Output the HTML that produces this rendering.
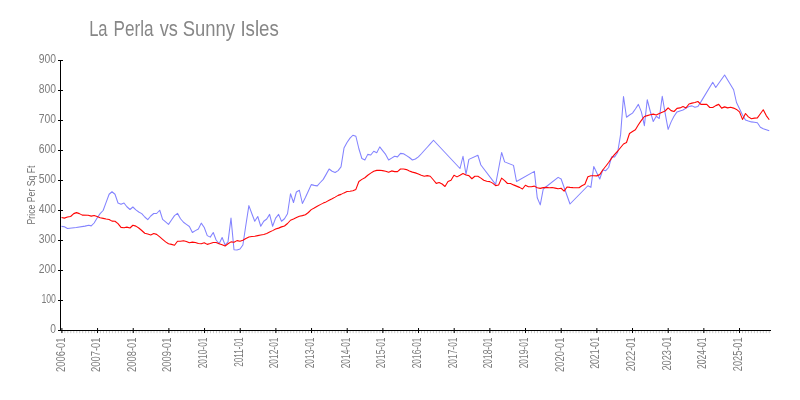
<!DOCTYPE html>
<html><head><meta charset="utf-8"><title>La Perla vs Sunny Isles</title>
<style>
html,body{margin:0;padding:0;background:#fff;}
body{width:800px;height:400px;overflow:hidden;font-family:"Liberation Sans",sans-serif;}
svg{display:block}
text{font-family:"Liberation Sans",sans-serif;}
.yl{font-size:12.1px;fill:#7c7c7c;}
.xl{font-size:12.1px;fill:#7c7c7c;}
.yt{font-size:11px;fill:#707070;}
.tt{font-size:21.6px;fill:#878787;}
</style></head><body>
<svg width="800" height="400" viewBox="0 0 800 400">
<rect width="800" height="400" fill="#fff"/>
<path d="M61.90,331V333.2M64.87,331V333.2M67.84,331V333.2M70.82,331V333.2M73.79,331V333.2M76.76,331V333.2M79.73,331V333.2M82.70,331V333.2M85.68,331V333.2M88.65,331V333.2M91.62,331V333.2M94.59,331V333.2M97.56,331V333.2M100.54,331V333.2M103.51,331V333.2M106.48,331V333.2M109.45,331V333.2M112.42,331V333.2M115.40,331V333.2M118.37,331V333.2M121.34,331V333.2M124.31,331V333.2M127.28,331V333.2M130.26,331V333.2M133.23,331V333.2M136.20,331V333.2M139.17,331V333.2M142.14,331V333.2M145.12,331V333.2M148.09,331V333.2M151.06,331V333.2M154.03,331V333.2M157.00,331V333.2M159.98,331V333.2M162.95,331V333.2M165.92,331V333.2M168.89,331V333.2M171.86,331V333.2M174.84,331V333.2M177.81,331V333.2M180.78,331V333.2M183.75,331V333.2M186.72,331V333.2M189.70,331V333.2M192.67,331V333.2M195.64,331V333.2M198.61,331V333.2M201.58,331V333.2M204.56,331V333.2M207.53,331V333.2M210.50,331V333.2M213.47,331V333.2M216.44,331V333.2M219.42,331V333.2M222.39,331V333.2M225.36,331V333.2M228.33,331V333.2M231.30,331V333.2M234.28,331V333.2M237.25,331V333.2M240.22,331V333.2M243.19,331V333.2M246.16,331V333.2M249.14,331V333.2M252.11,331V333.2M255.08,331V333.2M258.05,331V333.2M261.02,331V333.2M264.00,331V333.2M266.97,331V333.2M269.94,331V333.2M272.91,331V333.2M275.88,331V333.2M278.86,331V333.2M281.83,331V333.2M284.80,331V333.2M287.77,331V333.2M290.74,331V333.2M293.72,331V333.2M296.69,331V333.2M299.66,331V333.2M302.63,331V333.2M305.60,331V333.2M308.58,331V333.2M311.55,331V333.2M314.52,331V333.2M317.49,331V333.2M320.46,331V333.2M323.44,331V333.2M326.41,331V333.2M329.38,331V333.2M332.35,331V333.2M335.32,331V333.2M338.30,331V333.2M341.27,331V333.2M344.24,331V333.2M347.21,331V333.2M350.18,331V333.2M353.16,331V333.2M356.13,331V333.2M359.10,331V333.2M362.07,331V333.2M365.04,331V333.2M368.02,331V333.2M370.99,331V333.2M373.96,331V333.2M376.93,331V333.2M379.90,331V333.2M382.88,331V333.2M385.85,331V333.2M388.82,331V333.2M391.79,331V333.2M394.76,331V333.2M397.74,331V333.2M400.71,331V333.2M403.68,331V333.2M406.65,331V333.2M409.62,331V333.2M412.60,331V333.2M415.57,331V333.2M418.54,331V333.2M421.51,331V333.2M424.48,331V333.2M427.46,331V333.2M430.43,331V333.2M433.40,331V333.2M436.37,331V333.2M439.34,331V333.2M442.32,331V333.2M445.29,331V333.2M448.26,331V333.2M451.23,331V333.2M454.20,331V333.2M457.18,331V333.2M460.15,331V333.2M463.12,331V333.2M466.09,331V333.2M469.06,331V333.2M472.04,331V333.2M475.01,331V333.2M477.98,331V333.2M480.95,331V333.2M483.92,331V333.2M486.90,331V333.2M489.87,331V333.2M492.84,331V333.2M495.81,331V333.2M498.78,331V333.2M501.76,331V333.2M504.73,331V333.2M507.70,331V333.2M510.67,331V333.2M513.64,331V333.2M516.62,331V333.2M519.59,331V333.2M522.56,331V333.2M525.53,331V333.2M528.50,331V333.2M531.48,331V333.2M534.45,331V333.2M537.42,331V333.2M540.39,331V333.2M543.36,331V333.2M546.34,331V333.2M549.31,331V333.2M552.28,331V333.2M555.25,331V333.2M558.22,331V333.2M561.20,331V333.2M564.17,331V333.2M567.14,331V333.2M570.11,331V333.2M573.08,331V333.2M576.06,331V333.2M579.03,331V333.2M582.00,331V333.2M584.97,331V333.2M587.94,331V333.2M590.92,331V333.2M593.89,331V333.2M596.86,331V333.2M599.83,331V333.2M602.80,331V333.2M605.78,331V333.2M608.75,331V333.2M611.72,331V333.2M614.69,331V333.2M617.66,331V333.2M620.64,331V333.2M623.61,331V333.2M626.58,331V333.2M629.55,331V333.2M632.52,331V333.2M635.50,331V333.2M638.47,331V333.2M641.44,331V333.2M644.41,331V333.2M647.38,331V333.2M650.36,331V333.2M653.33,331V333.2M656.30,331V333.2M659.27,331V333.2M662.24,331V333.2M665.22,331V333.2M668.19,331V333.2M671.16,331V333.2M674.13,331V333.2M677.10,331V333.2M680.08,331V333.2M683.05,331V333.2M686.02,331V333.2M688.99,331V333.2M691.96,331V333.2M694.94,331V333.2M697.91,331V333.2M700.88,331V333.2M703.85,331V333.2M706.82,331V333.2M709.80,331V333.2M712.77,331V333.2M715.74,331V333.2M718.71,331V333.2M721.68,331V333.2M724.66,331V333.2M727.63,331V333.2M730.60,331V333.2M733.57,331V333.2M736.54,331V333.2M739.52,331V333.2M742.49,331V333.2M745.46,331V333.2M748.43,331V333.2M751.40,331V333.2M754.38,331V333.2M757.35,331V333.2M760.32,331V333.2M763.29,331V333.2M766.26,331V333.2M769.24,331V333.2" stroke="#c8c8c8" stroke-width="1" fill="none"/>
<path d="M60.5,60V331 M60,330.5H771" stroke="#000" stroke-width="1" fill="none" shape-rendering="crispEdges"/>
<path d="M58,330.5H62.5M58,300.5H62.5M58,270.5H62.5M58,240.5H62.5M58,210.5H62.5M58,180.5H62.5M58,150.5H62.5M58,120.5H62.5M58,90.5H62.5M58,60.5H62.5" stroke="#000" stroke-width="1" fill="none" shape-rendering="crispEdges"/>
<path d="M61.90,328V333M97.56,328V333M133.23,328V333M168.89,328V333M204.56,328V333M240.22,328V333M275.88,328V333M311.55,328V333M347.21,328V333M382.88,328V333M418.54,328V333M454.20,328V333M489.87,328V333M525.53,328V333M561.20,328V333M596.86,328V333M632.52,328V333M668.19,328V333M703.85,328V333M739.52,328V333" stroke="#000" stroke-width="1" fill="none"/>
<text class="yl" x="56.0" y="332.8" text-anchor="end" textLength="5.7" lengthAdjust="spacingAndGlyphs">0</text>
<text class="yl" x="56.0" y="302.8" text-anchor="end" textLength="14.6" lengthAdjust="spacingAndGlyphs">100</text>
<text class="yl" x="56.0" y="272.8" text-anchor="end" textLength="17.3" lengthAdjust="spacingAndGlyphs">200</text>
<text class="yl" x="56.0" y="242.8" text-anchor="end" textLength="17.3" lengthAdjust="spacingAndGlyphs">300</text>
<text class="yl" x="56.0" y="212.8" text-anchor="end" textLength="17.3" lengthAdjust="spacingAndGlyphs">400</text>
<text class="yl" x="56.0" y="182.8" text-anchor="end" textLength="17.3" lengthAdjust="spacingAndGlyphs">500</text>
<text class="yl" x="56.0" y="152.8" text-anchor="end" textLength="17.3" lengthAdjust="spacingAndGlyphs">600</text>
<text class="yl" x="56.0" y="122.8" text-anchor="end" textLength="17.3" lengthAdjust="spacingAndGlyphs">700</text>
<text class="yl" x="56.0" y="92.8" text-anchor="end" textLength="17.3" lengthAdjust="spacingAndGlyphs">800</text>
<text class="yl" x="56.0" y="62.8" text-anchor="end" textLength="17.3" lengthAdjust="spacingAndGlyphs">900</text>
<text class="xl" transform="translate(64.50,337.5) rotate(-90)" text-anchor="end" textLength="34.4" lengthAdjust="spacingAndGlyphs">2006-01</text>
<text class="xl" transform="translate(100.16,337.5) rotate(-90)" text-anchor="end" textLength="34.4" lengthAdjust="spacingAndGlyphs">2007-01</text>
<text class="xl" transform="translate(135.83,337.5) rotate(-90)" text-anchor="end" textLength="34.4" lengthAdjust="spacingAndGlyphs">2008-01</text>
<text class="xl" transform="translate(171.49,337.5) rotate(-90)" text-anchor="end" textLength="34.4" lengthAdjust="spacingAndGlyphs">2009-01</text>
<text class="xl" transform="translate(207.16,337.5) rotate(-90)" text-anchor="end" textLength="30.8" lengthAdjust="spacingAndGlyphs">2010-01</text>
<text class="xl" transform="translate(242.82,337.5) rotate(-90)" text-anchor="end" textLength="29.3" lengthAdjust="spacingAndGlyphs">2011-01</text>
<text class="xl" transform="translate(278.48,337.5) rotate(-90)" text-anchor="end" textLength="30.8" lengthAdjust="spacingAndGlyphs">2012-01</text>
<text class="xl" transform="translate(314.15,337.5) rotate(-90)" text-anchor="end" textLength="30.8" lengthAdjust="spacingAndGlyphs">2013-01</text>
<text class="xl" transform="translate(349.81,337.5) rotate(-90)" text-anchor="end" textLength="30.8" lengthAdjust="spacingAndGlyphs">2014-01</text>
<text class="xl" transform="translate(385.48,337.5) rotate(-90)" text-anchor="end" textLength="30.8" lengthAdjust="spacingAndGlyphs">2015-01</text>
<text class="xl" transform="translate(421.14,337.5) rotate(-90)" text-anchor="end" textLength="30.8" lengthAdjust="spacingAndGlyphs">2016-01</text>
<text class="xl" transform="translate(456.80,337.5) rotate(-90)" text-anchor="end" textLength="30.8" lengthAdjust="spacingAndGlyphs">2017-01</text>
<text class="xl" transform="translate(492.47,337.5) rotate(-90)" text-anchor="end" textLength="30.8" lengthAdjust="spacingAndGlyphs">2018-01</text>
<text class="xl" transform="translate(528.13,337.5) rotate(-90)" text-anchor="end" textLength="30.8" lengthAdjust="spacingAndGlyphs">2019-01</text>
<text class="xl" transform="translate(563.80,337.5) rotate(-90)" text-anchor="end" textLength="34.4" lengthAdjust="spacingAndGlyphs">2020-01</text>
<text class="xl" transform="translate(599.46,337.0) rotate(-90)" text-anchor="end" textLength="31.8" lengthAdjust="spacingAndGlyphs">2021-01</text>
<text class="xl" transform="translate(635.12,337.5) rotate(-90)" text-anchor="end" textLength="33.8" lengthAdjust="spacingAndGlyphs">2022-01</text>
<text class="xl" transform="translate(670.79,336.6) rotate(-90)" text-anchor="end" textLength="34.0" lengthAdjust="spacingAndGlyphs">2023-01</text>
<text class="xl" transform="translate(706.45,337.5) rotate(-90)" text-anchor="end" textLength="31.5" lengthAdjust="spacingAndGlyphs">2024-01</text>
<text class="xl" transform="translate(742.12,337.5) rotate(-90)" text-anchor="end" textLength="33.7" lengthAdjust="spacingAndGlyphs">2025-01</text>
<text class="yt" transform="translate(35.3,195) rotate(-90)" text-anchor="middle" textLength="59" lengthAdjust="spacingAndGlyphs">Price Per Sq Ft</text>
<text class="tt" y="35.9"><tspan x="89.13" textLength="18.41" lengthAdjust="spacingAndGlyphs">La</tspan> <tspan x="113.56" textLength="40.00" lengthAdjust="spacingAndGlyphs">Perla</tspan> <tspan x="159.75" textLength="18.19" lengthAdjust="spacingAndGlyphs">vs</tspan> <tspan x="182.73" textLength="52.21" lengthAdjust="spacingAndGlyphs">Sunny</tspan> <tspan x="240.43" textLength="38.41" lengthAdjust="spacingAndGlyphs">Isles</tspan></text>
<path d="M61.50,226.38 L64.38,226.75 L67.50,228.50 L76.25,227.50 L85.00,226.12 L88.75,225.25 L91.25,225.88 L94.12,223.00 L97.12,218.00 L100.12,213.62 L103.12,210.50 L106.12,202.38 L109.12,194.25 L112.00,191.75 L115.00,194.25 L118.00,203.00 L121.00,204.25 L124.00,203.00 L126.88,206.75 L130.00,209.50 L132.88,207.00 L135.88,209.88 L138.75,212.00 L141.75,213.62 L144.75,217.00 L147.75,219.62 L150.75,216.00 L153.75,213.50 L156.62,213.50 L159.75,210.25 L162.62,219.38 L165.62,221.88 L168.50,224.38 L171.50,220.00 L174.50,215.62 L177.50,213.38 L180.50,218.75 L183.50,222.25 L186.38,224.38 L189.38,226.50 L192.38,232.50 L195.38,230.62 L198.38,229.00 L201.25,223.12 L204.25,227.50 L207.25,235.62 L210.25,237.12 L213.25,232.50 L216.12,240.00 L219.12,243.75 L222.12,237.50 L225.12,245.00 L228.00,241.88 L231.00,218.12 L234.00,249.75 L237.00,250.00 L240.00,249.00 L242.88,245.00 L245.88,225.00 L248.88,205.62 L251.88,213.75 L254.75,221.25 L257.75,216.50 L260.75,226.25 L263.75,221.25 L266.75,219.00 L269.62,214.38 L272.62,226.25 L275.62,218.12 L278.62,214.38 L281.50,221.25 L284.50,218.75 L287.50,213.75 L290.50,193.75 L293.50,202.50 L296.38,192.00 L299.38,190.25 L302.38,203.50 L305.38,197.50 L308.38,191.00 L311.25,184.62 L314.25,185.38 L317.25,185.88 L320.25,182.50 L323.25,179.38 L326.12,174.38 L329.12,169.00 L332.12,171.25 L335.12,172.50 L338.12,170.62 L341.00,166.88 L344.00,148.12 L347.00,142.50 L350.00,138.12 L352.88,135.25 L355.88,136.25 L358.88,148.75 L361.88,158.50 L364.88,160.00 L367.75,154.38 L370.75,155.00 L373.75,151.25 L376.75,152.75 L379.75,146.88 L382.62,150.62 L385.62,154.38 L388.62,160.00 L391.62,158.12 L394.62,156.25 L397.50,156.88 L400.50,153.38 L403.50,153.75 L406.50,155.62 L409.38,157.50 L412.38,160.00 L415.38,159.00 L418.38,156.88 L421.38,153.75 L424.25,150.50 L427.25,147.25 L430.25,143.88 L433.50,140.25 L460.00,168.50 L463.00,156.25 L466.00,174.38 L468.88,159.38 L477.88,155.25 L480.88,165.00 L495.62,184.38 L498.62,168.75 L501.62,152.50 L504.62,161.88 L513.50,165.38 L516.50,181.50 L534.38,171.38 L537.25,197.75 L540.25,204.88 L543.25,189.00 L558.12,177.38 L561.12,179.00 L570.00,204.00 L587.88,185.75 L590.88,187.38 L593.75,166.50 L599.75,179.00 L602.75,170.00 L605.75,170.62 L608.62,167.50 L611.62,156.88 L614.62,156.88 L617.62,152.50 L620.62,134.38 L623.50,96.50 L626.50,117.25 L629.50,115.00 L632.50,113.12 L635.38,109.00 L638.38,104.38 L641.38,111.88 L644.38,125.62 L647.25,99.75 L650.25,111.25 L653.25,121.50 L656.25,116.25 L659.25,118.50 L662.25,96.25 L665.12,113.12 L668.12,129.38 L671.12,121.88 L674.00,116.25 L677.00,111.88 L680.00,110.88 L683.00,110.00 L686.00,108.12 L689.00,106.50 L692.00,105.88 L694.88,107.25 L697.88,106.50 L700.88,101.88 L712.75,82.25 L715.75,87.50 L724.62,75.00 L733.62,89.75 L736.50,102.50 L739.50,108.75 L742.50,115.00 L745.50,120.00 L748.38,121.00 L751.38,121.88 L754.38,122.25 L757.38,122.75 L760.38,127.25 L763.25,128.75 L766.25,129.75 L769.25,130.75" stroke="#8383ff" stroke-width="1.05" fill="none" stroke-linejoin="round"/>
<path d="M61.50,217.50 L64.38,218.12 L67.50,217.00 L70.62,216.50 L73.75,213.62 L76.50,212.62 L79.38,213.62 L82.25,215.12 L88.12,215.25 L91.25,216.12 L94.12,215.50 L97.12,216.50 L100.12,217.75 L103.12,218.38 L106.12,219.00 L109.12,219.50 L112.00,221.12 L115.00,221.25 L118.00,223.62 L121.00,227.38 L124.00,227.75 L126.88,227.12 L130.00,228.00 L132.88,225.25 L135.88,226.12 L138.75,228.00 L141.75,230.50 L144.75,233.25 L147.75,234.00 L150.75,235.00 L153.75,233.50 L156.62,234.38 L159.75,236.88 L162.62,239.38 L165.62,241.88 L168.50,243.75 L171.50,244.38 L174.50,245.25 L177.50,241.25 L180.50,241.25 L183.50,240.75 L186.38,241.50 L189.38,242.75 L192.38,242.12 L195.38,242.50 L198.38,243.50 L201.25,243.75 L204.25,242.75 L207.25,244.38 L210.25,243.50 L213.25,242.50 L216.12,242.50 L219.12,243.75 L222.12,244.75 L225.12,246.00 L228.00,243.75 L231.00,241.88 L234.00,242.25 L237.00,240.62 L240.00,241.25 L242.88,240.25 L245.88,238.50 L248.88,237.00 L251.88,236.50 L254.75,236.25 L257.75,235.62 L260.75,235.00 L263.75,234.50 L266.75,233.50 L269.62,232.12 L272.62,230.62 L275.62,229.00 L278.62,228.12 L281.50,226.88 L284.50,226.00 L287.50,223.50 L290.50,220.25 L293.50,219.00 L296.50,217.50 L299.38,216.25 L302.38,215.62 L305.38,214.75 L308.38,212.50 L311.25,209.62 L314.25,208.00 L317.25,206.25 L320.25,204.62 L323.25,203.12 L326.12,201.88 L329.12,200.25 L332.12,198.75 L335.12,197.12 L338.12,195.38 L341.00,194.38 L344.00,192.88 L347.00,191.50 L350.00,191.25 L352.88,190.75 L355.88,189.38 L358.88,181.50 L361.88,179.38 L364.88,177.75 L367.75,175.25 L370.75,173.12 L373.75,171.25 L376.75,170.38 L379.75,170.25 L382.62,170.62 L385.62,171.25 L388.62,172.25 L391.62,170.88 L394.62,171.62 L397.50,171.62 L400.50,169.00 L403.50,169.00 L406.50,169.62 L409.38,171.00 L412.38,172.12 L415.38,172.88 L418.38,174.00 L421.25,175.25 L424.25,176.25 L427.25,175.62 L430.25,176.25 L433.25,179.75 L436.25,183.38 L439.12,182.50 L442.12,184.00 L445.00,186.50 L448.00,181.50 L451.00,180.25 L454.00,175.25 L457.00,176.88 L460.00,175.25 L463.00,173.50 L466.00,175.00 L468.88,175.62 L471.88,178.75 L474.88,176.25 L477.88,176.25 L480.88,178.12 L483.75,180.25 L486.75,181.25 L489.75,181.62 L492.62,183.12 L495.62,185.62 L498.62,185.00 L501.62,178.12 L504.62,180.62 L507.50,183.50 L510.50,183.50 L513.50,184.88 L516.50,186.12 L519.50,187.38 L522.50,189.00 L525.38,185.25 L528.38,186.75 L531.38,186.75 L534.38,186.12 L537.25,187.75 L540.25,188.38 L543.25,187.62 L546.25,187.38 L549.25,187.75 L552.12,187.50 L555.12,188.12 L558.12,188.75 L561.12,188.25 L564.12,191.12 L567.00,187.00 L570.00,187.38 L573.00,187.62 L576.00,187.75 L579.00,187.75 L581.88,185.75 L584.88,184.25 L587.88,176.75 L590.88,175.75 L593.75,175.75 L596.75,175.88 L599.75,174.62 L602.75,170.00 L605.75,166.25 L608.62,162.50 L611.62,158.12 L614.62,154.38 L617.62,151.25 L620.62,147.50 L623.50,144.00 L626.50,142.50 L629.50,133.50 L632.50,131.50 L635.38,129.75 L638.38,124.75 L641.38,120.38 L644.38,116.50 L647.25,115.62 L650.25,114.75 L653.25,114.12 L656.25,115.00 L659.25,113.50 L662.25,112.25 L665.12,111.00 L668.12,107.88 L671.12,110.62 L674.00,111.50 L677.00,108.38 L680.00,107.88 L683.00,106.50 L686.00,107.88 L689.00,104.00 L692.00,103.12 L694.88,102.50 L697.88,101.50 L700.88,104.38 L703.88,104.38 L706.75,104.38 L709.75,107.50 L712.75,107.50 L715.75,105.62 L718.75,104.38 L721.62,108.12 L724.62,106.88 L727.62,107.88 L730.62,107.25 L733.62,108.12 L736.50,109.38 L739.50,111.88 L742.50,119.38 L745.50,113.50 L748.38,116.88 L751.38,118.75 L754.38,118.12 L757.38,117.88 L760.38,113.75 L763.25,109.75 L766.25,115.62 L769.25,119.75" stroke="#ff0505" stroke-width="1.1" fill="none" stroke-linejoin="round"/>
</svg>
</body></html>
